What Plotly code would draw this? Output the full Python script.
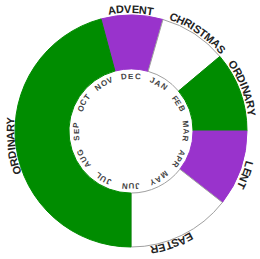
import math
import plotly.graph_objects as go

# Liturgical seasons (arc sizes, degrees of the year circle), clockwise from ADVENT
seasons = ["ADVENT", "CHRISTMAS", "ORDINARY", "LENT", "EASTER", "ORDINARY"]
season_sizes = [31, 34, 40, 38, 52, 165]
season_colors = ["#9933CC", "#FFFFFF", "#008C00", "#9933CC", "#FFFFFF", "#008C00"]
season_lines = ["#9933CC", "#A0A0A0", "#008C00", "#9933CC", "#A0A0A0", "#008C00"]
months = ["DEC", "JAN", "FEB", "MAR", "APR", "MAY",
          "JUN", "JUL", "AUG", "SEP", "OCT", "NOV"]

start_angle = -15  # where ADVENT begins (degrees clockwise from top)

W, H = 260, 259
cx, cy = 131, 131          # donut centre, pixels from top-left
R_out = 116
hole = 0.535

fig = go.Figure()
fig.add_trace(go.Pie(
    values=season_sizes, labels=[f"{s}{i}" for i, s in enumerate(seasons)],
    marker=dict(colors=season_colors, line=dict(color=season_lines, width=1)),
    sort=False, direction="clockwise", rotation=start_angle, hole=hole,
    textinfo="none", hoverinfo="skip", showlegend=False,
    domain=dict(x=[(cx - R_out) / W, (cx + R_out) / W],
                y=[(H - cy - R_out) / H, (H - cy + R_out) / H]),
))

# invisible pixel-scaled axes for curved text
fig.update_xaxes(range=[-cx, W - cx], visible=False, fixedrange=True)
fig.update_yaxes(range=[-(H - cy), cy], visible=False, fixedrange=True)

CW = {"A": .72, "B": .72, "C": .72, "D": .72, "E": .67, "F": .61, "G": .78,
      "H": .72, "I": .28, "J": .56, "L": .61, "M": .83, "N": .72, "O": .78,
      "P": .67, "R": .72, "S": .67, "T": .61, "U": .72, "V": .67, "Y": .67}

annotations = []


def arc_text(text, center_deg, radius, size, color, spacing=0.0):
    widths = [CW.get(ch, .65) * size + spacing for ch in text]
    total = sum(widths)
    pos = -total / 2
    for ch, w in zip(text, widths):
        a = center_deg + math.degrees((pos + w / 2) / radius)
        pos += w
        t = math.radians(a)
        annotations.append(dict(
            x=radius * math.sin(t), y=radius * math.cos(t), xref="x", yref="y",
            text=f"<b>{ch}</b>", showarrow=False, textangle=a,
            font=dict(family="Arial", size=size, color=color),
            xanchor="center", yanchor="middle"))


# outer season labels: centre angle (deg clockwise from top) and radius
season_label_angles = [0, 34, 69, 111, 160, 263]
season_label_radii = [122, 122, 122, 123, 121, 121]
for s, a, r in zip(seasons, season_label_angles, season_label_radii):
    arc_text(s, a, r, 11, "#222222", spacing=0.0)

# month labels inside the ring
for i, m in enumerate(months):
    arc_text(m, i * 30, 55, 8, "#444444", spacing=1.0)

fig.update_layout(
    width=W, height=H, margin=dict(l=0, r=0, t=0, b=0),
    paper_bgcolor="white", plot_bgcolor="rgba(0,0,0,0)",
    annotations=annotations,
)
fig.write_html("out.html", config={"displayModeBar": False},
               post_script="document.body.style.margin='0';")
